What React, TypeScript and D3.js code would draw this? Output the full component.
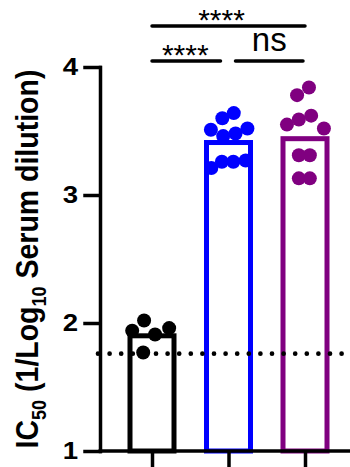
import React, { useEffect, useRef } from 'react';
import * as d3 from 'd3';

// groups along x (no visible labels in the figure)
const groups = ['Group 1', 'Group 2', 'Group 3'];
const groupColors = ['#000000', '#0000ff', '#800080'];
const barMeans = [1.9, 3.41, 3.44];

// individual IC50 values per group
const group1Values = [2.02, 1.94, 1.91, 1.96, 1.77];
const group2Values = [3.64, 3.6, 3.51, 3.46, 3.48, 3.52, 3.21, 3.26, 3.26, 3.27];
const group3Values = [3.78, 3.84, 3.55, 3.59, 3.62, 3.52, 3.31, 3.31, 3.13, 3.13];

// horizontal scatter of the dots, as a fraction of the bar width
const group1Jitter = [-0.18, -0.45, 0.07, 0.39, -0.2];
const group2Jitter = [0.12, -0.14, -0.4, -0.12, 0.16, 0.43, -0.39, -0.15, 0.11, 0.39];
const group3Jitter = [-0.18, 0.09, -0.41, -0.14, 0.14, 0.43, -0.14, 0.11, -0.14, 0.11];

const yTicks = [1, 2, 3, 4];
const detectionLimit = 1.76;

// significance comparisons
const compFrom = [0, 0, 1];
const compTo = [2, 1, 2];
const compLabels = ['****', '****', 'ns'];

const FONT = '"Liberation Sans", Arial, Helvetica, sans-serif';

const App = () => {
    const svgRef = useRef<SVGSVGElement>(null);

    useEffect(() => {
        const svg = d3.select(svgRef.current);
        svg.selectAll('*').remove();

        const width = 350;
        const axisX = 100;

        const y = d3.scaleLinear().domain([1, 4]).range([451, 67]);
        const x = d3.scalePoint<string>().domain(groups).range([152, 305]);
        const barWidth = 44;

        const allValues = [group1Values, group2Values, group3Values];
        const allJitter = [group1Jitter, group2Jitter, group3Jitter];

        // bars
        svg.append('g')
            .selectAll('rect')
            .data(groups)
            .enter()
            .append('rect')
            .attr('x', (d) => (x(d) as number) - barWidth / 2)
            .attr('y', (d, i) => y(barMeans[i]))
            .attr('width', barWidth)
            .attr('height', (d, i) => y(1) - y(barMeans[i]))
            .attr('fill', '#fff')
            .attr('stroke', (d, i) => groupColors[i])
            .attr('stroke-width', 5);

        // x axis
        const xAxis = svg.append('g')
            .attr('transform', `translate(0,${y(1)})`)
            .call(d3.axisBottom(x).tickSize(22).tickSizeOuter(0).tickFormat(() => ''));
        xAxis.select('.domain').remove();
        xAxis.selectAll('line').attr('stroke', '#000').attr('stroke-width', 3.5);
        svg.append('line')
            .attr('x1', axisX - 1.5)
            .attr('x2', width)
            .attr('y1', y(1))
            .attr('y2', y(1))
            .attr('stroke', '#000')
            .attr('stroke-width', 3.5);

        // y axis
        const yAxis = svg.append('g')
            .attr('transform', `translate(${axisX},0)`)
            .call(d3.axisLeft(y).tickValues(yTicks).tickSize(15).tickSizeOuter(0).tickFormat(d3.format('d')));
        yAxis.select('.domain').attr('stroke-width', 3.5).attr('stroke-linecap', 'square');
        yAxis.selectAll('line').attr('stroke-width', 3.5).attr('stroke-linecap', 'square');
        yAxis.selectAll('text')
            .attr('x', 0)
            .attr('transform', 'translate(-22,0) scale(1.15,1)')
            .attr('font-size', 24)
            .attr('font-weight', 'bold')
            .attr('font-family', FONT)
            .attr('fill', '#000');

        // y axis title
        const title = svg.append('text')
            .attr('transform', 'translate(38,259) scale(1.12,1) rotate(-90)')
            .attr('text-anchor', 'middle')
            .attr('font-size', 28.5)
            .attr('font-weight', 'bold')
            .attr('font-family', FONT)
            .attr('fill', '#000');
        title.append('tspan').text('IC');
        title.append('tspan').attr('font-size', 18).attr('dy', 7).text('50');
        title.append('tspan').attr('dy', -7).text(' (1/Log');
        title.append('tspan').attr('font-size', 18).attr('dy', 7).text('10');
        title.append('tspan').attr('dy', -7).text(' Serum dilution)');

        // limit of detection
        svg.append('line')
            .attr('x1', axisX - 2)
            .attr('x2', width)
            .attr('y1', y(detectionLimit))
            .attr('y2', y(detectionLimit))
            .attr('stroke', '#000')
            .attr('stroke-width', 4.7)
            .attr('stroke-linecap', 'round')
            .attr('stroke-dasharray', '0 11.6');

        // individual points
        groups.forEach((g, gi) => {
            svg.append('g')
                .selectAll('circle')
                .data(allValues[gi])
                .enter()
                .append('circle')
                .attr('cx', (d, i) => (x(g) as number) + allJitter[gi][i] * barWidth)
                .attr('cy', (d) => y(d))
                .attr('r', 7)
                .attr('fill', groupColors[gi]);
        });

        // significance brackets
        const levels = [26, 61, 61];
        const insetL = [0, 0, 7];
        const insetR = [0, 8, 2];
        const textShift = [-7, -1, 0];
        compLabels.forEach((lab, i) => {
            const x1 = (x(groups[compFrom[i]]) as number) + insetL[i];
            const x2 = (x(groups[compTo[i]]) as number) - insetR[i];
            svg.append('line')
                .attr('x1', x1)
                .attr('x2', x2)
                .attr('y1', levels[i])
                .attr('y2', levels[i])
                .attr('stroke', '#000')
                .attr('stroke-width', 3.5)
                .attr('stroke-linecap', 'round');
            const isStars = lab.startsWith('*');
            svg.append('text')
                .attr('x', (x1 + x2) / 2 + textShift[i])
                .attr('y', isStars ? levels[i] + 4 : levels[i] - 10)
                .attr('text-anchor', 'middle')
                .attr('font-size', isStars ? 30 : 33)
                .attr('font-family', FONT)
                .attr('fill', '#000')
                .text(lab);
        });
    }, []);

    return (
        <svg
            ref={svgRef}
            width={350}
            height={467}
            style={{ position: 'absolute', left: 0, top: 0, background: '#fff' }}
        ></svg>
    );
};

export default App;
